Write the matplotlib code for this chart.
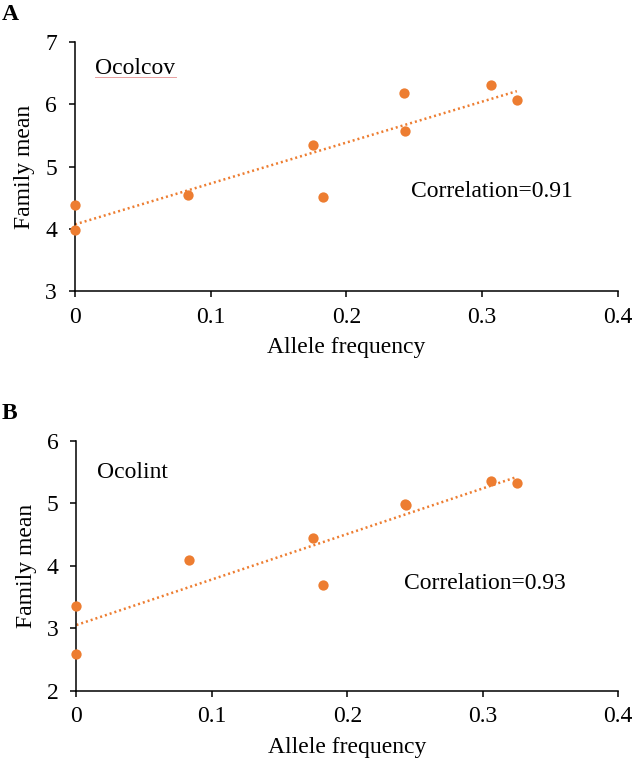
import numpy as np
import matplotlib
matplotlib.use("Agg")
import matplotlib.pyplot as plt
from matplotlib.lines import Line2D

plt.rcParams['font.family'] = ['Liberation Serif', 'DejaVu Serif']

# allele frequency vs family mean, panel A (Ocolcov)
freq_a = [0, 0, 0.0834, 0.175, 0.1826, 0.2426, 0.2432, 0.3065, 0.3255]
mean_a = [4.39, 3.98, 4.545, 5.344, 4.508, 6.18, 5.566, 6.317, 6.074]

# panel B (Ocolint)
freq_b = [0, 0, 0.0834, 0.1748, 0.1823, 0.2426, 0.2432, 0.3059, 0.325]
mean_b = [3.357, 2.593, 4.088, 4.451, 3.693, 4.99, 4.97, 5.354, 5.332]

xticks = [0, 0.1, 0.2, 0.3, 0.4]
xticklabels = ['0', '0.1', '0.2', '0.3', '0.4']

orange = '#ED7D31'

fig = plt.figure(figsize=(6.32, 7.64), dpi=100)
ax_a = fig.add_axes([0.1187, 0.6185, 0.859, 0.3266])
ax_b = fig.add_axes([0.121, 0.0959, 0.857, 0.3269])


def panel(ax, x, y, ylim, name, name_y, corr, corr_pos):
    x = np.array(x)
    y = np.array(y)
    ax.scatter(x, y, s=55, color=orange, zorder=3, clip_on=False, linewidths=0)
    # linear trendline from 0 to max frequency
    k, b = np.polyfit(x, y, 1)
    xs = np.array([0, x.max()])
    ax.plot(xs, k * xs + b, color=orange, lw=1.8, ls=(0, (0.8, 1.2)), zorder=2)

    ax.set_xlim(0, 0.4)
    ax.set_ylim(*ylim)
    ax.set_xticks(xticks)
    ax.set_xticklabels(xticklabels)
    ax.set_yticks(range(ylim[0], ylim[1] + 1))
    for s in ['top', 'right']:
        ax.spines[s].set_visible(False)
    for s in ['left', 'bottom']:
        ax.spines[s].set_linewidth(1.1)
    ax.tick_params(axis='both', direction='out', length=4, width=1.1, labelsize=17)
    ax.tick_params(axis='x', pad=7)
    ax.tick_params(axis='y', pad=9)
    ax.set_xlabel('Allele frequency', fontsize=17, labelpad=7)
    ax.set_ylabel('Family mean', fontsize=17, labelpad=7)
    t = ax.text(0.015, name_y, name, fontsize=17, va='center', ha='left')
    ax.text(corr_pos[0], corr_pos[1], corr, fontsize=17, va='center', ha='left')
    return t


t_a = panel(ax_a, freq_a, mean_a, (3, 7), 'Ocolcov', 6.57, 'Correlation=0.91', (0.2475, 4.6))
t_b = panel(ax_b, freq_b, mean_b, (2, 6), 'Ocolint', 5.5, 'Correlation=0.93', (0.242, 3.72))

fig.text(0.003, 0.995, 'A', fontsize=17, fontweight='bold', va='top', ha='left')
fig.text(0.003, 0.472, 'B', fontsize=17, fontweight='bold', va='top', ha='left')

# faint spell-check underline below "Ocolcov"
fig.canvas.draw()
bb = t_a.get_window_extent()
fig.add_artist(Line2D([bb.x0, bb.x1], [bb.y0 + 2, bb.y0 + 2], transform=None,
                      color='#e8a0a0', lw=0.7))

fig.savefig('out.png', dpi=100)
